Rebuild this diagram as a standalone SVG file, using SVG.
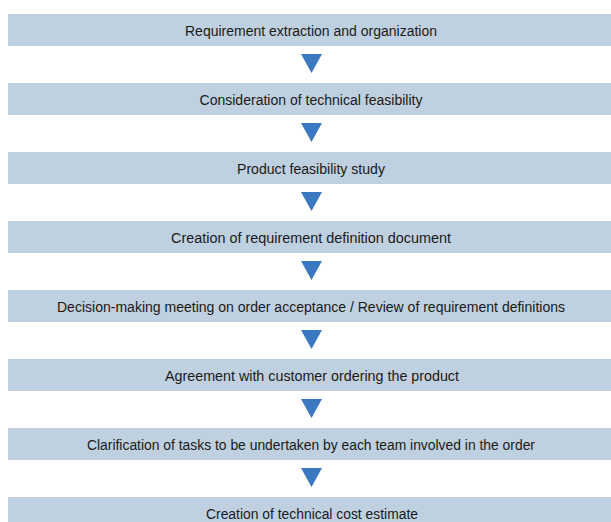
<svg xmlns="http://www.w3.org/2000/svg" width="611" height="522" viewBox="0 0 611 522">
<style>
.bar{fill:#BFD0E0}
.lbl{font-family:"Liberation Sans","DejaVu Sans",sans-serif;font-size:15.5px;fill:#1a1a1a;text-anchor:middle}
.tri{fill:#3B78C2}
</style>
<rect width="611" height="522" fill="#ffffff"/>
<g id="n1"><rect class="bar" x="8" y="14" width="603" height="32"/><text class="lbl" x="311" y="36" textLength="252" lengthAdjust="spacingAndGlyphs">Requirement extraction and organization</text></g>
<g id="n2"><rect class="bar" x="8" y="83" width="603" height="32"/><text class="lbl" x="311" y="105" textLength="223" lengthAdjust="spacingAndGlyphs">Consideration of technical feasibility</text></g>
<g id="n3"><rect class="bar" x="8" y="152" width="603" height="32"/><text class="lbl" x="311" y="174" textLength="148" lengthAdjust="spacingAndGlyphs">Product feasibility study</text></g>
<g id="n4"><rect class="bar" x="8" y="221" width="603" height="32"/><text class="lbl" x="311" y="243" textLength="280" lengthAdjust="spacingAndGlyphs">Creation of requirement definition document</text></g>
<g id="n5"><rect class="bar" x="8" y="290" width="603" height="32"/><text class="lbl" x="311" y="312" textLength="508" lengthAdjust="spacingAndGlyphs">Decision-making meeting on order acceptance / Review of requirement definitions</text></g>
<g id="n6"><rect class="bar" x="8" y="359" width="603" height="32"/><text class="lbl" x="312" y="381" textLength="294" lengthAdjust="spacingAndGlyphs">Agreement with customer ordering the product</text></g>
<g id="n7"><rect class="bar" x="8" y="428" width="603" height="32"/><text class="lbl" x="311" y="450" textLength="448" lengthAdjust="spacingAndGlyphs">Clarification of tasks to be undertaken by each team involved in the order</text></g>
<g id="n8"><rect class="bar" x="8" y="497" width="603" height="32"/><text class="lbl" x="312" y="519" textLength="212" lengthAdjust="spacingAndGlyphs">Creation of technical cost estimate</text></g>
<g id="connectors">
<polygon class="tri" points="301,54 322,54 311.5,73"/>
<polygon class="tri" points="301,123 322,123 311.5,142"/>
<polygon class="tri" points="301,192 322,192 311.5,211"/>
<polygon class="tri" points="301,261 322,261 311.5,280"/>
<polygon class="tri" points="301,330 322,330 311.5,349"/>
<polygon class="tri" points="301,399 322,399 311.5,418"/>
<polygon class="tri" points="301,468 322,468 311.5,487"/>
</g>
</svg>
